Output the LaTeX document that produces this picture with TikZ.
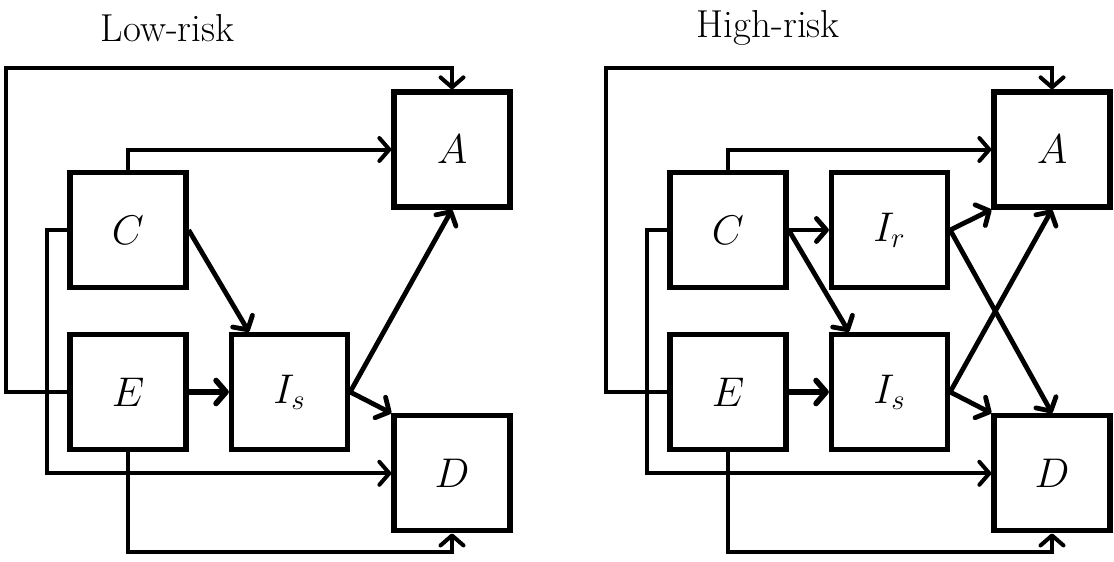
\documentclass[tikz,border=0pt]{standalone}
\usetikzlibrary{arrows.meta,calc}
\begin{document}
\begin{tikzpicture}[x=0.5pt,y=-0.5pt,
  box/.style={draw, line width=2.65pt, minimum width=58pt, minimum height=57.5pt, inner sep=0pt, font=\fontsize{21}{25}\selectfont},
  ttl/.style={anchor=base, inner sep=0pt, font=\fontsize{19.5}{23}\selectfont},
  tip/.style={-{Straight Barb[length=5pt,width=11.5pt,round]}},
  thinln/.style={tip, line width=2pt},
  midln/.style={tip, line width=2.4pt},
  thickln/.style={tip, line width=2.8pt}]
\useasboundingbox (0,0) rectangle (1114,562);
% ---------- Low-risk ----------
\node[ttl] (lT) at (167.5,41.7) {Low-risk};
\node[box] (lC) at (128,230) {$C$};
\node[box] (lE) at (128,392) {$E$};
\node[box] (lIs) at (289.5,392) {$I_s$};
\node[box] (lA) at (452,149.5) {$A$};
\node[box] (lD) at (452,473.3) {$D$};
\coordinate (lL) at (6,67.5);
\coordinate (lK) at (47,300);
\coordinate (lM) at (128,552);
\draw[thinln] (lE.west) -| (lL) -| (lA.north);
\draw[thinln] (lC.north) |- (lA.west);
\draw[thinln] (lC.west) -| (lK) |- (lD.west);
\draw[thinln] (lE.south) |- (lM) -| (lD.south);
\draw[midln] (lC.east) -- ($(lIs.north west)!0.165!(lIs.north east)$);
\draw[thickln] (lE.east) -- (lIs.west);
\draw[midln] (lIs.east) -- (lA.south);
\draw[midln] (lIs.east) -- (lD.north west);
% ---------- High-risk ----------
\node[ttl] (rT) at (768.3,37.3) {High-risk};
\node[box] (rC) at (728,230) {$C$};
\node[box] (rIr) at (889.5,230) {$I_r$};
\node[box] (rE) at (728,392) {$E$};
\node[box] (rIs) at (889.5,392) {$I_s$};
\node[box] (rA) at (1052,149.5) {$A$};
\node[box] (rD) at (1052,473.3) {$D$};
\coordinate (rL) at (606,67.5);
\coordinate (rK) at (647,300);
\coordinate (rM) at (728,552);
\draw[thinln] (rE.west) -| (rL) -| (rA.north);
\draw[thinln] (rC.north) |- (rA.west);
\draw[thinln] (rC.west) -| (rK) |- (rD.west);
\draw[thinln] (rE.south) |- (rM) -| (rD.south);
\draw[midln] (rC.east) -- (rIr.west);
\draw[midln] (rC.east) -- ($(rIs.north west)!0.165!(rIs.north east)$);
\draw[thickln] (rE.east) -- (rIs.west);
\draw[midln] (rIr.east) -- (rA.south west);
\draw[midln] (rIr.east) -- (rD.north);
\draw[midln] (rIs.east) -- (rA.south);
\draw[midln] (rIs.east) -- (rD.north west);
\end{tikzpicture}
\end{document}
